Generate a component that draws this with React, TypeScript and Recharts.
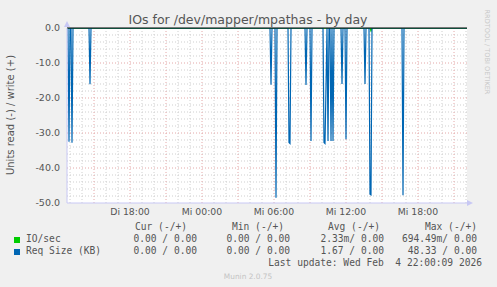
import React from "react";
import {
  LineChart,
  Line,
  XAxis,
  YAxis,
  CartesianGrid,
  ReferenceLine,
} from "recharts";

// time in minutes since Tue 00:00, one munin sample every 5 minutes
const reqTime = [
  765, 770, 775, 780, 785, 790, 795, 875, 880, 885, 1780, 1785, 1790, 1805,
  1810, 1815, 1870, 1875, 1880, 1885, 1955, 1960, 1965, 1980, 1985, 1990, 2045,
  2050, 2055, 2060, 2065, 2070, 2075, 2080, 2085, 2090, 2095, 2100, 2135, 2140,
  2145, 2155, 2160, 2165, 2250, 2255, 2260, 2275, 2280, 2285, 2290, 2440, 2445,
  2450, 2765,
];
const reqRead = [
  0, 0, -32.5, 0, 0, -32.8, 0, 0, -16.1, 0, 0, -16.2, 0, 0, -48.5, 0, 0, -32.7,
  -33.0, 0, 0, -16.3, 0, 0, -32.3, 0, 0, -32.7, -33.0, -16.9, 0, -32.3, 0, 0,
  -32.3, 0, -32.3, 0, 0, -16.0, 0, 0, -31.8, 0, 0, -16.0, 0, 0, -47.5, -47.7, 0,
  0, -47.8, 0, 0,
];

const ioTime = [765, 2280, 2285, 2290, 2765];
const ioRead = [0, 0, -0.69, 0, 0];

const xTicks = [1080, 1440, 1800, 2160, 2520];
const yTicks = [0, -10, -20, -30, -40, -50];

// grid: gray every hour / 2 units, red every 3 hours / 10 units
const minorX = Array.from({ length: 34 }, (_, i) => 780 + i * 60).filter(
  (m) => m % 180 !== 0
);
const majorX = Array.from({ length: 11 }, (_, i) => 900 + i * 180);
const minorY = Array.from({ length: 24 }, (_, i) => -2 - i * 2).filter(
  (v) => v % 10 !== 0
);
const majorY = [-10, -20, -30, -40];

const legendHeaders = ["Cur (-/+)", "Min (-/+)", "Avg (-/+)", "Max (-/+)"];
const ioStats = ["0.00 / 0.00", "0.00 / 0.00", "2.33m/ 0.00", "694.49m/ 0.00"];
const reqStats = ["0.00 / 0.00", "0.00 / 0.00", "1.67 / 0.00", "48.33 / 0.00"];

const reqData = reqTime.map((t, i) => ({ t, v: reqRead[i] }));
const ioData = ioTime.map((t, i) => ({ t, v: ioRead[i] }));

const headerRight = [187, 284, 380, 477];
const valueRight = [197, 290, 384, 477];

const fmtX = (m: number) => {
  const day = m < 1440 ? "Di" : "Mi";
  const h = Math.floor(m / 60) % 24;
  return `${day} ${String(h).padStart(2, "0")}:00`;
};

const mono: React.CSSProperties = {
  position: "absolute",
  fontFamily: "DejaVu Sans Mono",
  fontSize: 9.6,
  lineHeight: "12px",
  color: "#555",
  whiteSpace: "pre",
};

const minorStyle = { stroke: "#cfcfcf", strokeDasharray: "1 2" };
const majorStyle = { stroke: "#e4a8a8", strokeDasharray: "1 2" };

export default function App() {
  return (
    <div
      style={{
        position: "absolute",
        left: 0,
        top: 0,
        width: 497,
        height: 287,
        background: "#f0f0f0",
        fontFamily: "DejaVu Sans",
        overflow: "hidden",
      }}
    >
      <LineChart
        width={497}
        height={287}
        margin={{ top: 28, right: 30, bottom: 0, left: 0 }}
      >
        <CartesianGrid
          fill="#ffffff"
          fillOpacity={1}
          horizontal={false}
          vertical={false}
        />
        <XAxis
          dataKey="t"
          type="number"
          domain={[765, 2765]}
          allowDataOverflow
          ticks={xTicks}
          tickFormatter={fmtX}
          height={84}
          tickLine={false}
          tickSize={0}
          tickMargin={5}
          axisLine={{ stroke: "#c8c8f4" }}
          tick={{ fill: "#555", fontSize: 9.3, fontFamily: "DejaVu Sans" }}
        />
        <YAxis
          type="number"
          domain={[-50, 0]}
          allowDataOverflow
          ticks={yTicks}
          tickFormatter={(v: number) => v.toFixed(1)}
          width={67}
          tickLine={false}
          tickSize={0}
          tickMargin={7}
          axisLine={{ stroke: "#c8c8f4" }}
          tick={{ fill: "#555", fontSize: 9.5, fontFamily: "DejaVu Sans" }}
        />
        {minorX.map((x) => (
          <ReferenceLine key={`nx${x}`} x={x} {...minorStyle} />
        ))}
        {minorY.map((y) => (
          <ReferenceLine key={`ny${y}`} y={y} {...minorStyle} />
        ))}
        {majorX.map((x) => (
          <ReferenceLine key={`mx${x}`} x={x} {...majorStyle} />
        ))}
        {majorY.map((y) => (
          <ReferenceLine key={`my${y}`} y={y} {...majorStyle} />
        ))}
        <Line
          data={ioData}
          dataKey="v"
          type="linear"
          stroke="#00cc00"
          strokeWidth={1.5}
          dot={false}
          isAnimationActive={false}
        />
        <Line
          data={reqData}
          dataKey="v"
          type="linear"
          stroke="#0066b3"
          strokeWidth={1.2}
          dot={false}
          isAnimationActive={false}
        />
        <ReferenceLine y={0} stroke="#000" strokeWidth={1} />
      </LineChart>

      {/* axis arrows */}
      <svg
        width={497}
        height={287}
        style={{ position: "absolute", left: 0, top: 0, pointerEvents: "none" }}
      >
        <polygon points="64,27 70,27 67,21" fill="#c8c8f4" />
        <polygon points="467,200 467,206 473,203" fill="#c8c8f4" />
      </svg>

      <div
        style={{
          position: "absolute",
          left: 248,
          top: 19,
          transform: "translate(-50%, -50%)",
          fontSize: 12.5,
          color: "#555",
          whiteSpace: "nowrap",
        }}
      >
        IOs for /dev/mapper/mpathas - by day
      </div>
      <div
        style={{
          position: "absolute",
          left: 10,
          top: 115,
          transform: "translate(-50%, -50%) rotate(-90deg)",
          fontSize: 10,
          color: "#555",
          whiteSpace: "nowrap",
        }}
      >
        Units read (-) / write (+)
      </div>
      <div
        style={{
          position: "absolute",
          left: 487,
          top: 52,
          transform: "translate(-50%, -50%) rotate(90deg)",
          fontSize: 6.6,
          color: "#c8c8c8",
          whiteSpace: "nowrap",
        }}
      >
        RRDTOOL / TOBI OETIKER
      </div>

      {legendHeaders.map((h, i) => (
        <div key={h} style={{ ...mono, top: 221, right: 497 - headerRight[i] }}>
          {h}
        </div>
      ))}
      <div
        style={{
          position: "absolute",
          left: 14,
          top: 237,
          width: 6,
          height: 6,
          background: "#00cc00",
        }}
      />
      <div style={{ ...mono, top: 233, left: 26 }}>IO/sec</div>
      {ioStats.map((s, i) => (
        <div key={i} style={{ ...mono, top: 233, right: 497 - valueRight[i] }}>
          {s}
        </div>
      ))}
      <div
        style={{
          position: "absolute",
          left: 14,
          top: 249,
          width: 6,
          height: 6,
          background: "#0066b3",
        }}
      />
      <div style={{ ...mono, top: 245, left: 26 }}>Req Size (KB)</div>
      {reqStats.map((s, i) => (
        <div key={i} style={{ ...mono, top: 245, right: 497 - valueRight[i] }}>
          {s}
        </div>
      ))}
      <div style={{ ...mono, top: 257, right: 15 }}>
        Last update: Wed Feb  4 22:00:09 2026
      </div>
      <div
        style={{
          position: "absolute",
          left: 248,
          top: 276,
          transform: "translate(-50%, -50%)",
          fontSize: 7.4,
          color: "#c4c4c4",
          whiteSpace: "nowrap",
        }}
      >
        Munin 2.0.75
      </div>
    </div>
  );
}
